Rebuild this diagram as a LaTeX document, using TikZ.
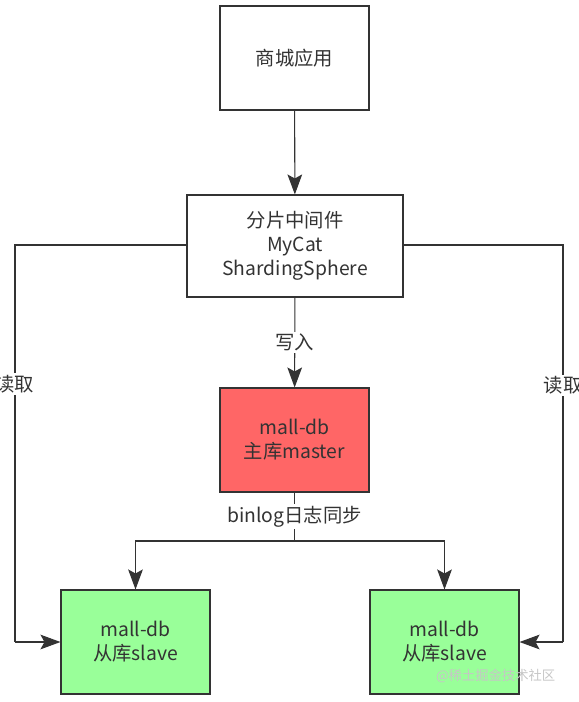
\documentclass[tikz,border=0pt]{standalone}
\usepackage{fontspec}
\setmainfont{Noto Sans CJK SC}
\usetikzlibrary{arrows.meta,positioning}
\definecolor{linegray}{RGB}{51,51,51}
\definecolor{masterred}{RGB}{255,102,102}
\definecolor{slavegreen}{RGB}{153,255,153}

\begin{document}
\begin{tikzpicture}[x=0.75pt,y=-0.75pt,
    box/.style={draw=linegray,line width=0.8pt,align=center,text=linegray,
      font=\fontsize{14.5}{18}\selectfont,minimum width=111.75pt,minimum height=78pt,inner sep=0pt},
    link/.style={draw=linegray,line width=0.8pt},
    arr/.style={link,-{Stealth[length=15pt,width=11pt,inset=3pt]}},
    lbl/.style={fill=white,text=linegray,font=\fontsize{14.5}{18}\selectfont,inner sep=1.5pt}]
    \useasboundingbox (0,0) rectangle (578,702);

    % Boxes
    \node[box] (app) at (294.5,58) {商城应用};
    \node[box,minimum width=162pt,minimum height=76.5pt] (mid) at (295,246)
      {分片中间件\\MyCat\\ShardingSphere};
    \node[box,fill=masterred] (master) at (294.5,440) {mall-db\\主库master};
    \node[box,fill=slavegreen] (slaveL) at (135.5,642) {mall-db\\从库slave};
    \node[box,fill=slavegreen] (slaveR) at (444.5,642) {mall-db\\从库slave};

    % Write path
    \draw[arr] (app) -- (mid);
    \draw[arr] (mid) -- node[lbl]{写入} (master);

    % Replication
    \coordinate (split) at (294.5,541);
    \draw[link] (master.south) -- node[lbl,pos=0.5]{binlog日志同步} (split);
    \draw[arr] (split) -| (slaveL.north);
    \draw[arr] (split) -| (slaveR.north);

    % Read paths
    \coordinate (leftTop) at (15,245);
    \coordinate (leftBot) at (15,642);
    \coordinate (rightTop) at (563,245);
    \coordinate (rightBot) at (563,642);
    \draw[link] (mid.west |- leftTop) -- (leftTop) -- node[lbl,pos=0.35]{读取} (leftBot);
    \draw[arr] (leftBot) -- (slaveL.west);
    \draw[link] (mid.east |- rightTop) -- (rightTop) -- node[lbl,pos=0.354]{读取} (rightBot);
    \draw[arr] (rightBot) -- (slaveR.east);

    % Watermark
    \node[text=gray!45,font=\fontsize{10}{12}\selectfont,anchor=east] (mark) at (560,676) {@稀土掘金技术社区};
\end{tikzpicture}
\end{document}
